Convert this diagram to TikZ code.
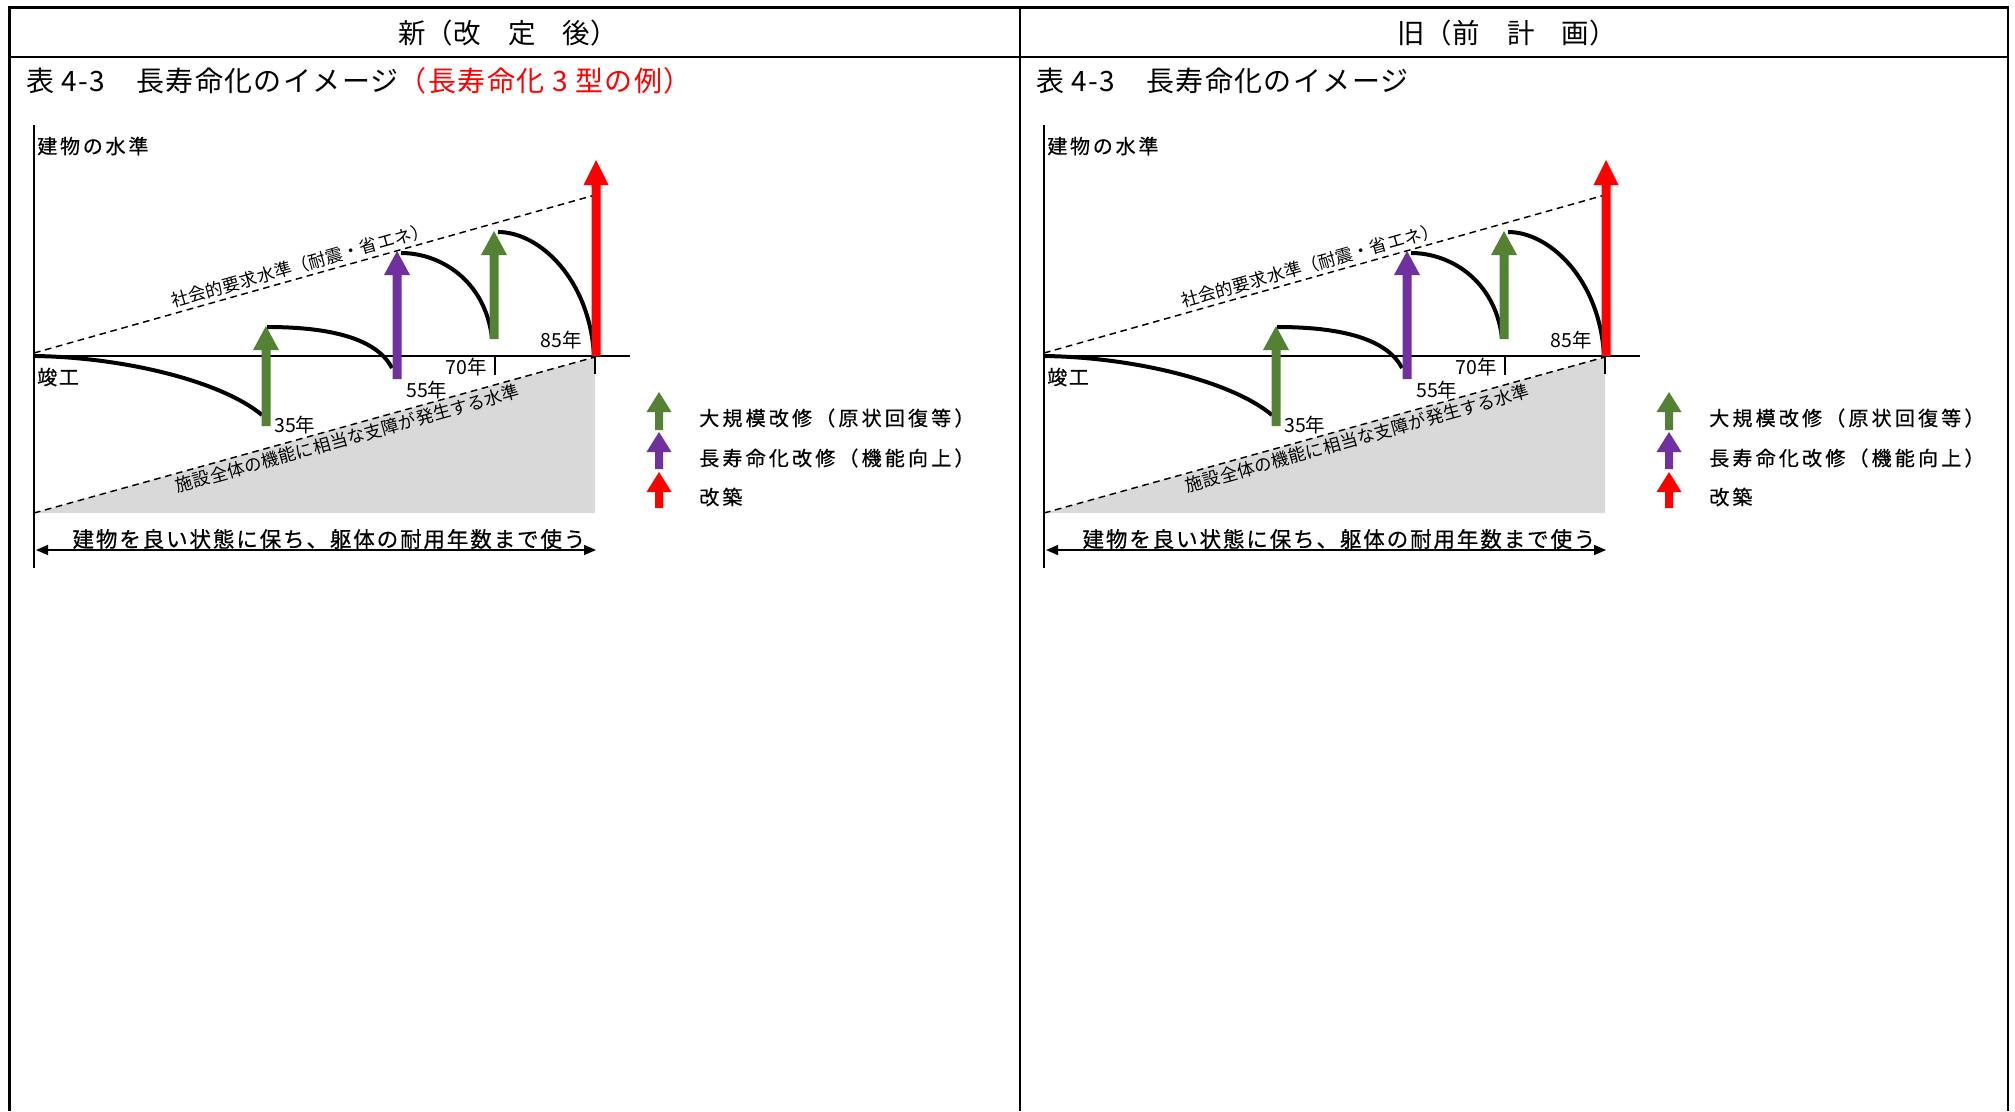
\documentclass[tikz,border=0pt]{standalone}
\usepackage{fontspec}
\setmainfont{Noto Sans CJK JP}
\newfontfamily\jpA[LetterSpace=14,FakeBold=0.5]{Noto Sans CJK JP}
\newfontfamily\jpB[LetterSpace=8,FakeBold=0.5]{Noto Sans CJK JP}
\newfontfamily\jpC[LetterSpace=2]{Noto Sans CJK JP}
\newfontfamily\jpD[LetterSpace=16,FakeBold=0.5]{Noto Sans CJK JP}
\newfontfamily\jpE[LetterSpace=9,FakeBold=0.5]{Noto Sans CJK JP}
\newfontfamily\jpF[LetterSpace=5]{Noto Sans CJK JP}
\usetikzlibrary{arrows.meta}
\definecolor{mygreen}{RGB}{84,130,53}
\definecolor{mypurple}{RGB}{112,48,160}
\definecolor{myred}{RGB}{255,0,0}
\definecolor{mygray}{RGB}{217,217,217}
% color, x, ybottom, ytip, shaft half width, head half width, head length
\newcommand\fatarr[7]{\fill[#1] ({#2-#5},#3) -- ({#2-#5},{#4+#7}) -- ({#2-#6},{#4+#7}) -- (#2,#4) -- ({#2+#6},{#4+#7}) -- ({#2+#5},{#4+#7}) -- ({#2+#5},#3) -- cycle;}
\begin{document}
\begin{tikzpicture}[x=0.75pt,y=-0.75pt,
  tbl/.style={line width=1.9pt},
  hdr/.style={inner sep=0pt, font=\fontsize{20.6pt}{24pt}\selectfont},
  captxt/.style={inner sep=0pt, anchor=west, font=\jpF\fontsize{21pt}{24pt}\selectfont},
  axisln/.style={line width=1.5pt},
  dashln/.style={line width=1.1pt, dash pattern=on 5pt off 3.5pt},
  curveln/.style={line width=3pt},
  tickln/.style={line width=1.1pt},
  vlab/.style={inner sep=0pt, anchor=west, font=\jpA\fontsize{15pt}{17pt}\selectfont},
  olab/.style={inner sep=0pt, anchor=west, font=\jpB\fontsize{15pt}{17pt}\selectfont},
  yr/.style={inner sep=0pt, font=\fontsize{14.6pt}{16pt}\selectfont},
  slt/.style={inner sep=0pt, font=\jpC\fontsize{13.1pt}{15pt}\selectfont},
  leg/.style={inner sep=0pt, anchor=west, font=\jpD\fontsize{15pt}{17pt}\selectfont},
  btm/.style={inner sep=0pt, font=\jpE\fontsize{16.1pt}{18pt}\selectfont},
  dbl/.style={line width=1.1pt, {Triangle[width=7.5pt,length=9pt]}-{Triangle[width=7.5pt,length=9pt]}}
]
\useasboundingbox (0,0) rectangle (2015,1111);
% table frame
\draw[tbl] (9.5,1111) -- (9.5,7.5) -- (2008,7.5) -- (2008,1111);
\draw[tbl] (9.5,57) -- (2008,57);
\draw[tbl] (1020,7.5) -- (1020,1111);
\node[hdr] (hL) at (508,33) {新（改　定　後）};
\node[hdr] (hR) at (1507,33) {旧（前　計　画）};
\node[captxt] (cL) at (26,81) {表 4-3　長寿命化のイメージ\textcolor{myred}{（長寿命化 3 型の例）}};
\node[captxt] (cR) at (1036,81) {表 4-3　長寿命化のイメージ};
\foreach \dx/\p in {0/L,1010/R}{
\begin{scope}[xshift=\dx*0.75pt]
  % gray region
  \fill[mygray] (34,513) -- (595,357) -- (595,513) -- cycle;
  % dashed levels
  \coordinate (\p-ua) at (34,353); \coordinate (\p-ub) at (595,195);
  \coordinate (\p-la) at (34,513); \coordinate (\p-lb) at (595,357);
  \draw[dashln] (\p-ua) -- (\p-ub) node[pos=0.48, sloped, above=2.5pt, slt] (\p-soc) {社会的要求水準（耐震・省エネ）};
  \draw[dashln] (\p-la) -- (\p-lb) node[pos=0.553, sloped, below=2.5pt, slt] (\p-fac) {施設全体の機能に相当な支障が発生する水準};
  % axes
  \coordinate (\p-yt) at (34,125); \coordinate (\p-yb) at (34,568);
  \coordinate (\p-x0) at (34,356); \coordinate (\p-x1) at (630,356);
  \draw[axisln] (\p-yt) -- (\p-yb);
  \draw[axisln] (\p-x0) -- (\p-x1);
  % ticks
  \coordinate (\p-t70) at (495,356); \coordinate (\p-t85) at (595,356);
  \draw[tickln] (\p-t70) -- ++(0,19);
  \draw[tickln] (\p-t85) -- ++(0,18);
  % curves
  \draw[curveln] (34,356) .. controls (120,357) and (220,380) .. (262,415);
  \draw[curveln] (267,327) .. controls (320,327) and (375,335) .. (392,368);
  \draw[curveln] (401,253) .. controls (440,253) and (485,280) .. (492,338);
  \draw[curveln] (498,232) .. controls (540,232) and (590,280) .. (594,356);
  % arrows
  \fatarr{mygreen}{266}{426}{326}{4.5}{13}{24}
  \fatarr{mypurple}{397}{379}{251}{4.5}{13}{24}
  \fatarr{mygreen}{494}{339}{231}{4.5}{13}{24}
  \fatarr{myred}{596}{356}{160}{4.5}{12.5}{25}
  % labels
  \node[vlab] (\p-vl) at (37,146) {建物の水準};
  \node[olab] (\p-ok) at (37,377) {竣工};
  \node[yr, anchor=west] (\p-y35) at (274,425) {35年};
  \node[yr, anchor=west] (\p-y55) at (406,390) {55年};
  \node[yr, anchor=east] (\p-y70) at (487,367) {70年};
  \node[yr, anchor=east] (\p-y85) at (582,340) {85年};
  % bottom double arrow
  \coordinate (\p-dl) at (36,550); \coordinate (\p-dr) at (596,550);
  \draw[dbl] (\p-dl) -- (\p-dr);
  \node[btm] (\p-bt) at (329,539) {建物を良い状態に保ち、躯体の耐用年数まで使う};
  % legend
  \fatarr{mygreen}{659}{430}{392}{4}{12.5}{20}
  \fatarr{mypurple}{659}{469}{432}{4}{12.5}{20}
  \fatarr{myred}{659}{508}{472}{4}{12.5}{20}
  \node[leg] (\p-lg1) at (699,418) {大規模改修（原状回復等）};
  \node[leg] (\p-lg2) at (699,458) {長寿命化改修（機能向上）};
  \node[leg] (\p-lg3) at (699,497) {改築};
\end{scope}}
\end{tikzpicture}
\end{document}
